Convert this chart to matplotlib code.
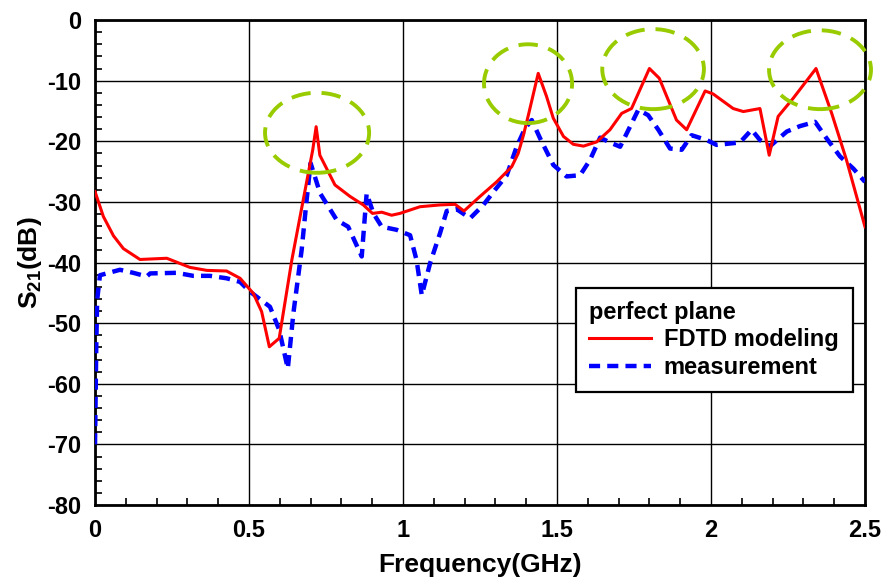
import matplotlib
matplotlib.use("Agg")
import matplotlib.pyplot as plt
from matplotlib.patches import Ellipse
from matplotlib.ticker import MultipleLocator

plt.rcParams['font.family'] = ['Liberation Sans', 'DejaVu Sans']
plt.rcParams['font.weight'] = 'bold'
plt.rcParams['axes.unicode_minus'] = False
plt.rcParams['mathtext.fontset'] = 'custom'
plt.rcParams['mathtext.rm'] = 'Liberation Sans:bold'
plt.rcParams['mathtext.bf'] = 'Liberation Sans:bold'
plt.rcParams['mathtext.default'] = 'bf'

# FDTD modeling (red solid)
fdtd_f = [0.0, 0.027, 0.06, 0.092, 0.146, 0.233, 0.308, 0.363, 0.427, 0.471, 0.514,
          0.541, 0.566, 0.598, 0.639, 0.676, 0.707, 0.718, 0.73, 0.779, 0.828, 0.871,
          0.901, 0.931, 0.963, 0.990, 1.055, 1.12, 1.169, 1.198, 1.25, 1.304, 1.353,
          1.374, 1.391, 1.407, 1.439, 1.466, 1.488, 1.521, 1.553, 1.586, 1.629, 1.672,
          1.71, 1.742, 1.800, 1.832, 1.888, 1.921, 1.981, 2.007, 2.072, 2.105, 2.159,
          2.189, 2.218, 2.267, 2.341, 2.392, 2.440, 2.5]
fdtd_db = [-28.3, -32.4, -35.6, -37.7, -39.5, -39.3, -40.8, -41.3, -41.4, -42.6, -45.1,
           -48.1, -53.9, -52.5, -39.6, -29.7, -21.4, -17.6, -22.3, -27.2, -29.1, -30.5,
           -31.9, -31.7, -32.2, -31.9, -30.8, -30.5, -30.4, -31.5, -29.1, -26.7, -24.2,
           -22.0, -19.0, -15.7, -8.8, -12.6, -16.2, -19.2, -20.5, -20.8, -20.1, -18.1,
           -15.4, -14.6, -8.0, -9.6, -16.5, -18.1, -11.7, -12.2, -14.6, -15.1, -14.6,
           -22.3, -15.9, -12.9, -8.0, -15.4, -23.1, -34.1]

# measurement (blue dashed)
meas_f = [0.0, 0.002, 0.004, 0.007, 0.016, 0.081, 0.124, 0.168, 0.179, 0.265, 0.319,
          0.373, 0.427, 0.471, 0.503, 0.568, 0.598, 0.626, 0.644, 0.671, 0.687, 0.700,
          0.731, 0.785, 0.822, 0.866, 0.882, 0.904, 0.931, 0.979, 1.023, 1.044, 1.061,
          1.088, 1.12, 1.142, 1.174, 1.218, 1.261, 1.299, 1.337, 1.369, 1.396, 1.418,
          1.445, 1.488, 1.531, 1.575, 1.607, 1.640, 1.672, 1.705, 1.737, 1.764, 1.796,
          1.829, 1.867, 1.905, 1.937, 1.986, 2.018, 2.094, 2.132, 2.159, 2.192, 2.246,
          2.289, 2.338, 2.375, 2.419, 2.462, 2.5]
meas_db = [-70.0, -62.1, -53.9, -46.2, -42.1, -41.2, -41.7, -42.3, -41.8, -41.7, -42.2,
           -42.2, -42.6, -43.2, -44.8, -47.3, -51.1, -57.5, -48.4, -37.9, -29.7, -23.6,
           -28.6, -33.0, -34.1, -39.0, -28.6, -31.9, -34.1, -34.6, -35.5, -39.6, -45.4,
           -40.1, -35.2, -31.5, -31.2, -32.7, -30.5, -28.0, -25.6, -20.9, -17.9, -16.5,
           -19.5, -23.9, -25.8, -25.6, -23.1, -19.4, -20.2, -20.9, -17.6, -14.8, -15.7,
           -18.1, -21.2, -21.4, -19.0, -19.8, -20.6, -20.2, -18.1, -19.8, -20.8, -18.4,
           -17.5, -16.8, -19.5, -22.5, -24.5, -26.7]

# highlight ellipses: centre f, centre dB, width GHz, height dB
ell_f = [0.721, 1.406, 1.812, 2.354]
ell_db = [-18.6, -10.5, -8.1, -8.2]
ell_w = [0.338, 0.286, 0.330, 0.331]
ell_h = [13.2, 13.0, 13.2, 13.0]

fig = plt.figure(figsize=(8.83, 5.82), dpi=100)
ax = fig.add_axes([0.1076, 0.1323, 0.872, 0.8333])

ax.plot(fdtd_f, fdtd_db, color='#ff0000', lw=2.2, label='FDTD modeling', zorder=4)
ax.plot(meas_f, meas_db, color='#0000ff', lw=3.2, ls=(0, (2.5, 1.6)),
        label='measurement', zorder=3)

for cf, cd, w, h in zip(ell_f, ell_db, ell_w, ell_h):
    e = Ellipse((cf, cd), w, h, fill=False, edgecolor='#99cc00', lw=2.8,
                ls=(0, (5, 2.8)), clip_on=False, zorder=5)
    ax.add_patch(e)

ax.set_xlim(0, 2.5)
ax.set_ylim(-80, 0)
ax.xaxis.set_major_locator(MultipleLocator(0.5))
ax.xaxis.set_minor_locator(MultipleLocator(0.1))
ax.yaxis.set_major_locator(MultipleLocator(10))
ax.yaxis.set_minor_locator(MultipleLocator(2))
ax.set_xticks([0, 0.5, 1, 1.5, 2, 2.5])
ax.set_xticklabels(['0', '0.5', '1', '1.5', '2', '2.5'])
ax.grid(True, which='major', color='black', lw=1.0)
ax.set_axisbelow(True)
ax.tick_params(which='both', direction='in', labelsize=17, width=1.2)
ax.tick_params(which='major', length=0, pad=10)
ax.tick_params(which='minor', length=5)
for lab in ax.get_xticklabels() + ax.get_yticklabels():
    lab.set_fontweight('bold')
for s in ax.spines.values():
    s.set_linewidth(2)

ax.set_xlabel('Frequency(GHz)', fontsize=19, fontweight='bold', labelpad=8)
ax.set_ylabel(r'S$_{21}$(dB)', fontsize=19, fontweight='bold', labelpad=2)

leg = ax.legend(loc='lower left', bbox_to_anchor=(0.625, 0.233, 0.36, 0.202),
                mode='expand', title='perfect plane', fontsize=17,
                title_fontproperties={'weight': 'bold', 'size': 17},
                prop={'weight': 'bold', 'size': 17}, frameon=True, fancybox=False,
                edgecolor='black', framealpha=1, handlelength=2.6, borderaxespad=0,
                borderpad=0.55, labelspacing=0.2, handletextpad=0.55)
leg._legend_box.align = 'left'
leg.get_frame().set_linewidth(1.6)
leg.set_zorder(6)

fig.savefig('out.png', dpi=100)
